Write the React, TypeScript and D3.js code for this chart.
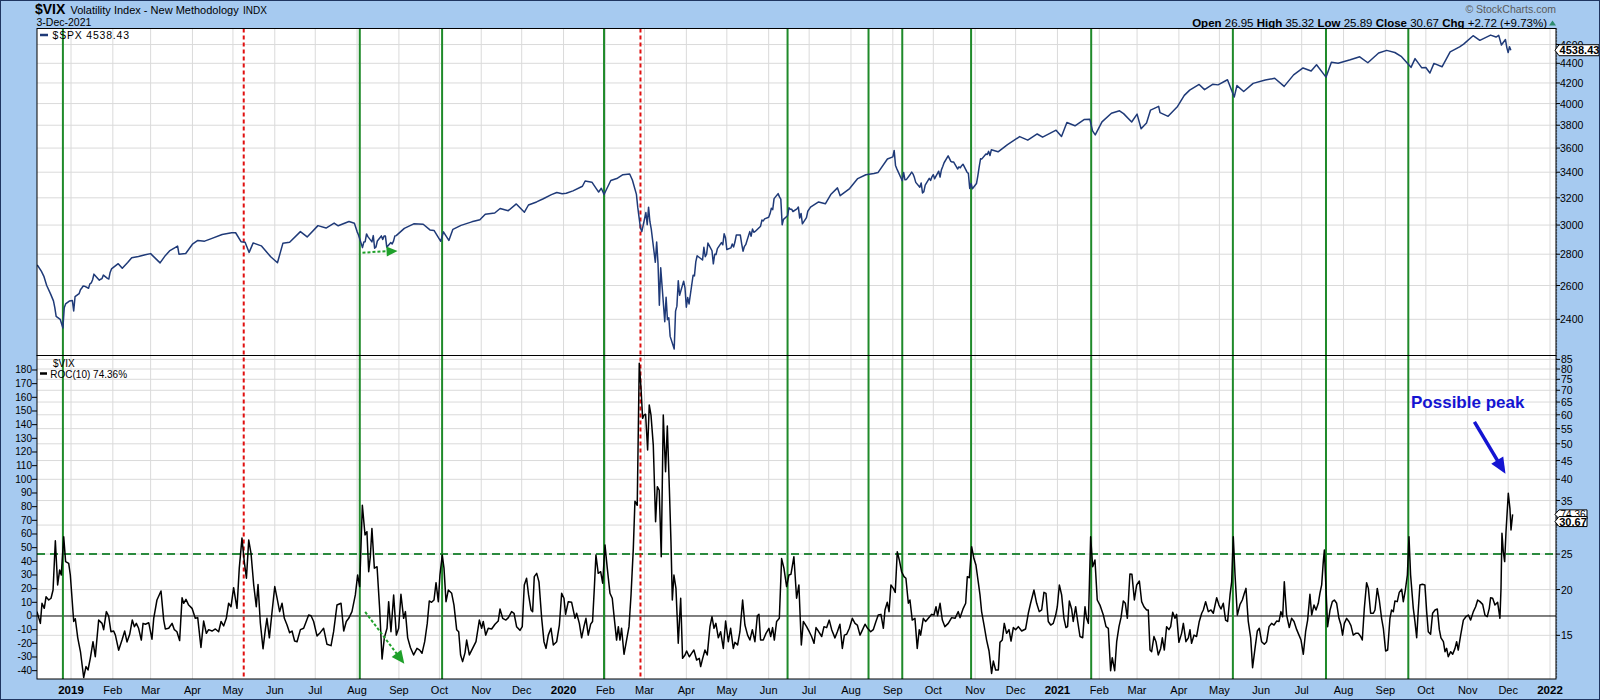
import React from "react";
import * as d3 from "d3";

// ---------------- DATA ----------------
const spxSeries: [string, number][] = [
  ["2018-12-07", 2730], ["2018-12-10", 2690], ["2018-12-12", 2655], ["2018-12-14", 2600], ["2018-12-17", 2546],
  ["2018-12-19", 2507], ["2018-12-20", 2467], ["2018-12-21", 2417], ["2018-12-24", 2400], ["2018-12-26", 2351],
  ["2018-12-27", 2467], ["2018-12-28", 2489], ["2018-12-31", 2507], ["2019-01-02", 2510], ["2019-01-03", 2448],
  ["2019-01-04", 2532], ["2019-01-07", 2550], ["2019-01-08", 2574], ["2019-01-09", 2585], ["2019-01-10", 2597],
  ["2019-01-11", 2596], ["2019-01-14", 2583], ["2019-01-15", 2610], ["2019-01-16", 2616], ["2019-01-17", 2636],
  ["2019-01-18", 2671], ["2019-01-22", 2633], ["2019-01-23", 2639], ["2019-01-24", 2643], ["2019-01-25", 2665],
  ["2019-01-28", 2644], ["2019-01-29", 2640], ["2019-01-30", 2682], ["2019-01-31", 2704], ["2019-02-05", 2738],
  ["2019-02-08", 2708], ["2019-02-12", 2745], ["2019-02-15", 2776], ["2019-02-20", 2785], ["2019-02-25", 2796],
  ["2019-03-01", 2804], ["2019-03-08", 2743], ["2019-03-12", 2792], ["2019-03-15", 2822], ["2019-03-21", 2854],
  ["2019-03-22", 2800], ["2019-03-27", 2805], ["2019-04-01", 2867], ["2019-04-05", 2893], ["2019-04-10", 2888],
  ["2019-04-15", 2905], ["2019-04-23", 2934], ["2019-04-30", 2946], ["2019-05-03", 2946], ["2019-05-07", 2884],
  ["2019-05-10", 2881], ["2019-05-13", 2812], ["2019-05-16", 2876], ["2019-05-22", 2856], ["2019-05-29", 2783],
  ["2019-06-03", 2744], ["2019-06-07", 2873], ["2019-06-12", 2880], ["2019-06-20", 2954], ["2019-06-25", 2917],
  ["2019-07-03", 2996], ["2019-07-09", 2979], ["2019-07-15", 3014], ["2019-07-18", 2995], ["2019-07-26", 3026],
  ["2019-07-30", 3013], ["2019-08-01", 2954], ["2019-08-02", 2932], ["2019-08-05", 2844], ["2019-08-06", 2882],
  ["2019-08-07", 2884], ["2019-08-08", 2938], ["2019-08-09", 2919], ["2019-08-12", 2883], ["2019-08-13", 2926],
  ["2019-08-14", 2840], ["2019-08-15", 2848], ["2019-08-16", 2889], ["2019-08-19", 2924], ["2019-08-20", 2900],
  ["2019-08-21", 2924], ["2019-08-22", 2923], ["2019-08-23", 2847], ["2019-08-26", 2878], ["2019-08-27", 2869],
  ["2019-08-28", 2888], ["2019-08-29", 2924], ["2019-08-30", 2926], ["2019-09-05", 2977], ["2019-09-12", 3009],
  ["2019-09-19", 3006], ["2019-09-24", 2966], ["2019-09-27", 2962], ["2019-10-02", 2887], ["2019-10-04", 2952],
  ["2019-10-08", 2893], ["2019-10-11", 2970], ["2019-10-17", 2998], ["2019-10-25", 3023], ["2019-10-31", 3038],
  ["2019-11-04", 3078], ["2019-11-11", 3087], ["2019-11-15", 3120], ["2019-11-21", 3104], ["2019-11-27", 3154],
  ["2019-12-03", 3093], ["2019-12-06", 3146], ["2019-12-12", 3169], ["2019-12-17", 3193], ["2019-12-23", 3224],
  ["2019-12-27", 3240], ["2019-12-31", 3231], ["2020-01-03", 3235], ["2020-01-08", 3253], ["2020-01-15", 3289],
  ["2020-01-17", 3330], ["2020-01-22", 3321], ["2020-01-27", 3244], ["2020-01-29", 3273], ["2020-01-31", 3225],
  ["2020-02-05", 3334], ["2020-02-10", 3352], ["2020-02-14", 3380], ["2020-02-19", 3386], ["2020-02-21", 3338],
  ["2020-02-24", 3226], ["2020-02-25", 3128], ["2020-02-27", 2979], ["2020-02-28", 2954], ["2020-03-02", 3090],
  ["2020-03-03", 3003], ["2020-03-04", 3130], ["2020-03-05", 3024], ["2020-03-06", 2972], ["2020-03-09", 2747],
  ["2020-03-10", 2882], ["2020-03-11", 2741], ["2020-03-12", 2481], ["2020-03-13", 2711], ["2020-03-16", 2386],
  ["2020-03-17", 2529], ["2020-03-18", 2398], ["2020-03-19", 2409], ["2020-03-20", 2305], ["2020-03-23", 2237],
  ["2020-03-24", 2447], ["2020-03-25", 2476], ["2020-03-26", 2630], ["2020-03-27", 2541], ["2020-03-30", 2627],
  ["2020-03-31", 2585], ["2020-04-01", 2470], ["2020-04-02", 2527], ["2020-04-03", 2489], ["2020-04-06", 2664],
  ["2020-04-07", 2660], ["2020-04-08", 2750], ["2020-04-09", 2790], ["2020-04-13", 2762], ["2020-04-14", 2846],
  ["2020-04-15", 2784], ["2020-04-16", 2800], ["2020-04-17", 2875], ["2020-04-20", 2823], ["2020-04-21", 2737],
  ["2020-04-22", 2799], ["2020-04-23", 2798], ["2020-04-24", 2837], ["2020-04-27", 2878], ["2020-04-28", 2863],
  ["2020-04-29", 2939], ["2020-04-30", 2912], ["2020-05-01", 2831], ["2020-05-04", 2842], ["2020-05-05", 2868],
  ["2020-05-06", 2848], ["2020-05-07", 2882], ["2020-05-08", 2930], ["2020-05-11", 2930], ["2020-05-12", 2870],
  ["2020-05-13", 2820], ["2020-05-14", 2852], ["2020-05-15", 2864], ["2020-05-18", 2954], ["2020-05-19", 2922],
  ["2020-05-20", 2972], ["2020-05-21", 2949], ["2020-05-22", 2955], ["2020-05-26", 2992], ["2020-05-27", 3036],
  ["2020-05-28", 3030], ["2020-05-29", 3044], ["2020-06-01", 3056], ["2020-06-02", 3081], ["2020-06-03", 3122],
  ["2020-06-04", 3112], ["2020-06-05", 3194], ["2020-06-08", 3232], ["2020-06-09", 3207], ["2020-06-10", 3190],
  ["2020-06-11", 3002], ["2020-06-12", 3041], ["2020-06-15", 3067], ["2020-06-16", 3125], ["2020-06-17", 3114],
  ["2020-06-18", 3115], ["2020-06-19", 3098], ["2020-06-22", 3117], ["2020-06-23", 3131], ["2020-06-24", 3050],
  ["2020-06-25", 3084], ["2020-06-26", 3009], ["2020-06-29", 3053], ["2020-06-30", 3100], ["2020-07-02", 3130],
  ["2020-07-08", 3169], ["2020-07-13", 3155], ["2020-07-17", 3225], ["2020-07-22", 3276], ["2020-07-24", 3216],
  ["2020-07-31", 3271], ["2020-08-06", 3349], ["2020-08-12", 3380], ["2020-08-18", 3390], ["2020-08-21", 3397],
  ["2020-08-28", 3508], ["2020-09-01", 3526], ["2020-09-02", 3580], ["2020-09-03", 3455], ["2020-09-04", 3427],
  ["2020-09-08", 3332], ["2020-09-09", 3398], ["2020-09-10", 3339], ["2020-09-11", 3341], ["2020-09-14", 3384],
  ["2020-09-15", 3401], ["2020-09-16", 3385], ["2020-09-17", 3357], ["2020-09-18", 3319], ["2020-09-21", 3281],
  ["2020-09-22", 3315], ["2020-09-23", 3237], ["2020-09-24", 3247], ["2020-09-25", 3298], ["2020-09-28", 3351],
  ["2020-09-29", 3335], ["2020-09-30", 3363], ["2020-10-01", 3380], ["2020-10-02", 3348], ["2020-10-05", 3408],
  ["2020-10-06", 3361], ["2020-10-07", 3419], ["2020-10-08", 3446], ["2020-10-09", 3477], ["2020-10-12", 3534],
  ["2020-10-13", 3511], ["2020-10-14", 3489], ["2020-10-15", 3483], ["2020-10-16", 3484], ["2020-10-19", 3426],
  ["2020-10-20", 3443], ["2020-10-21", 3436], ["2020-10-22", 3453], ["2020-10-23", 3465], ["2020-10-26", 3400],
  ["2020-10-27", 3391], ["2020-10-28", 3271], ["2020-10-29", 3310], ["2020-10-30", 3270], ["2020-11-02", 3310],
  ["2020-11-03", 3370], ["2020-11-04", 3443], ["2020-11-05", 3510], ["2020-11-06", 3509], ["2020-11-09", 3550],
  ["2020-11-10", 3545], ["2020-11-11", 3572], ["2020-11-12", 3537], ["2020-11-13", 3585], ["2020-11-18", 3568],
  ["2020-11-25", 3629], ["2020-12-04", 3699], ["2020-12-10", 3668], ["2020-12-17", 3722], ["2020-12-21", 3694],
  ["2020-12-31", 3756], ["2021-01-04", 3700], ["2021-01-08", 3824], ["2021-01-14", 3795], ["2021-01-21", 3853],
  ["2021-01-25", 3855], ["2021-01-27", 3750], ["2021-01-29", 3714], ["2021-02-03", 3830], ["2021-02-10", 3910],
  ["2021-02-16", 3932], ["2021-02-19", 3906], ["2021-02-25", 3829], ["2021-03-01", 3901], ["2021-03-04", 3768],
  ["2021-03-08", 3821], ["2021-03-11", 3939], ["2021-03-17", 3974], ["2021-03-18", 3915], ["2021-03-24", 3881],
  ["2021-03-31", 3973], ["2021-04-05", 4078], ["2021-04-09", 4129], ["2021-04-16", 4185], ["2021-04-20", 4134],
  ["2021-04-26", 4187], ["2021-04-30", 4181], ["2021-05-07", 4232], ["2021-05-12", 4063], ["2021-05-14", 4174],
  ["2021-05-19", 4116], ["2021-05-26", 4196], ["2021-06-04", 4229], ["2021-06-11", 4247], ["2021-06-18", 4166],
  ["2021-06-25", 4281], ["2021-07-02", 4352], ["2021-07-08", 4320], ["2021-07-12", 4385], ["2021-07-19", 4258],
  ["2021-07-23", 4412], ["2021-07-28", 4401], ["2021-08-06", 4437], ["2021-08-13", 4468], ["2021-08-19", 4406],
  ["2021-08-27", 4509], ["2021-09-02", 4537], ["2021-09-08", 4514], ["2021-09-13", 4469], ["2021-09-20", 4358],
  ["2021-09-23", 4449], ["2021-09-28", 4353], ["2021-10-01", 4357], ["2021-10-04", 4300], ["2021-10-07", 4399],
  ["2021-10-13", 4364], ["2021-10-19", 4520], ["2021-10-26", 4575], ["2021-10-29", 4605], ["2021-11-05", 4697],
  ["2021-11-10", 4646], ["2021-11-18", 4704], ["2021-11-22", 4682], ["2021-11-24", 4701], ["2021-11-26", 4595],
  ["2021-11-29", 4655], ["2021-11-30", 4567], ["2021-12-01", 4513], ["2021-12-02", 4577], ["2021-12-03", 4538.43],
];

// [days after 2019-01-01, ROC(10) of $VIX in %]
const rocSeries: [number, number][] = [
  [-25.2, 3.2], [-22.7, -5.4], [-21.5, 9.3], [-19.8, 5.6], [-18.5, 14], [-16.5, 11.7], [-14.8, 13], [-13.3, 19],
  [-11.6, 55], [-9.9, 22.7], [-8.4, 33.7], [-7.2, 30], [-5.4, 58], [-4.0, 39.8], [-1.7, 38.5], [-0.5, 30],
  [2.0, -4], [3.2, -2], [5.0, -16], [7.0, -26], [9.4, -45], [11.1, -37], [12.6, -39.5], [14.3, -31], [16.3, -18.8],
  [18.0, -29.8], [20.5, -3], [23.0, -5.4], [24.2, -10], [26.2, 3.2], [27.9, 0], [29.6, -11.5], [31.6, -11],
  [32.9, -14], [35.3, -25], [37.8, -17.6], [39.8, -11], [41.5, -19], [43.5, -13.4], [45.4, -3], [47.0, -7.8],
  [48.4, -5.4], [50.1, -9], [52.1, -17.6], [53.4, -5.4], [55.1, -6], [57.6, -4.9], [60.0, -17], [61.3, -1.7],
  [63.7, 11.7], [66.7, 18.3], [68.7, -3], [69.9, -9.5], [72.4, -9], [74.9, -5.4], [76.6, -10], [78.5, -11.5],
  [80.5, -18], [82.3, 13.4], [83.5, 9.3], [85.2, 12.2], [87.2, 8], [89.7, 5.6], [92.1, -1.7], [93.9, -1.2],
  [96.3, -23], [98.3, -3.7], [100.3, -12.7], [102.0, -10], [104.5, -11], [107.0, -9.5], [109.4, -11.5],
  [111.2, -4], [113.1, -7.3], [115.1, -1.7], [116.8, 9.3], [118.6, 6.8], [120.5, 20.7], [123.0, 5.6], [124.7, 35],
  [126.7, 57], [128.4, 39.8], [130.0, 27.6], [131.7, 55.6], [133.4, 45.9], [135.4, 22.7], [137.3, 6.8], [138.6, 23],
  [140.3, -5], [142.3, -24], [144.0, -10], [145.2, -1.7], [147.0, -16], [149.0, 3.2], [151.0, 21.5], [152.7, 13],
  [154.6, 3.2], [156.4, 9.3], [158.1, -1.7], [160.1, -6.6], [162.0, -12.2], [163.8, -11], [165.7, -18.3],
  [167.5, -18.8], [170.0, -10], [172.4, -9], [174.1, -4.6], [176.1, 0.7], [177.9, 0.2], [179.8, -4], [182.3, -14.6],
  [184.8, -12], [187.2, -9], [189.7, -20.7], [192.7, -21.7], [194.6, -11.5], [197.1, 8], [200.1, 9.3], [202.1, -11],
  [204.0, -4], [205.8, -1.7], [208.2, 3.2], [210.7, 15.4], [212.4, 30], [213.9, 21.5], [215.9, 81], [217.9, 59.3],
  [219.3, 61.7], [220.6, 32.4], [221.8, 43.4], [223.0, 64], [224.8, 35], [226.8, 36], [228.7, 5.6], [230.5, -31.5],
  [232.2, -15.9], [234.2, -9], [235.4, 10.5], [237.1, -11.5], [239.1, 15.4], [241.1, -14], [242.8, -9], [244.5, 15.9],
  [246.5, -1.7], [247.8, 3.2], [249.5, -16], [251.5, -23], [253.9, -28.5], [256.4, -23.7], [258.4, -25],
  [260.1, -27.3], [262.1, -18.8],
  [264.0, -5.4], [265.5, 11], [267.2, 10], [269.0, 11.7], [270.5, 24.4], [272.2, 10.5], [273.4, 30], [275.1, 44.6],
  [276.4, 35], [277.9, 10.5], [279.6, 19], [282.1, 16.6], [283.8, 8], [285.8, -10], [287.3, -11.5], [288.7, -28.5],
  [290.2, -33.4], [292.0, -26.8], [293.2, -17.6], [295.2, -28.5], [297.6, -23.7], [300.1, -18.8], [302.6, -3],
  [304.3, -9], [305.5, -4], [307.3, -14], [309.2, -9], [311.7, -9.5], [314.2, -6], [316.6, -3.7], [317.9, 5.1],
  [319.9, -1.7], [322.3, -3], [324.1, -1.2], [326.5, 3.2], [328.3, 2], [330.2, -7.8], [332.7, -10.5], [334.4, -7.8],
  [335.9, 22.7], [337.6, 27.6], [339.1, 15.4], [340.9, 4.4], [342.1, 3.2], [343.3, 28.8], [345.1, 31.2], [346.8, 25],
  [348.8, -1.7], [350.5, -18.8], [352.0, -23.7], [353.7, -14], [355.7, -9], [357.4, -21.2], [359.9, -18.8],
  [361.9, -6.6], [363.6, 16.6], [365.3, 13], [366.5, 1.2], [368.5, 10.5], [371.0, 10], [373.5, -1.7], [374.7, 2],
  [376.7, -5.4], [378.4, -16], [380.1, -7.8], [381.6, -1.7], [383.3, -14], [385.1, -6], [386.5, -4], [387.8, 20.2],
  [389.0, 44.6], [390.7, 31.2], [392.5, 32.4], [394.0, 24], [395.7, 52], [397.4, 35], [399.4, 16.6], [401.1, 13],
  [402.6, -1.7], [404.3, -17.6], [405.6, -7.8], [406.8, -17.6], [408.0, -9], [409.8, -28], [411.7, -17.6],
  [413.5, -7.8], [415.0, 15.4], [416.7, 49.5], [417.9, 84], [419.6, 81], [421.1, 185], [422.4, 166.6],
  [423.6, 144.6], [424.6, 147], [425.8, 147.6], [427.3, 121.5], [428.5, 154.4], [429.8, 147], [431.5, 125],
  [433.2, 69], [434.5, 94.6], [435.9, 92], [437.4, 43.4], [438.9, 147], [440.6, 105.6], [441.9, 139], [443.4, 93.4],
  [444.6, 54.4], [445.6, 11.7], [446.8, 30], [448.3, 20.2], [450.0, -20], [451.8, 13], [453.2, -31], [455.0, -28.5],
  [456.2, -25.6], [458.2, -29.8], [459.9, -27.3], [461.6, -24.9], [463.6, -32.2], [465.6, -31], [466.6, -37],
  [468.1, -31], [469.8, -24.9], [471.5, -28.5], [473.5, -7.8], [475.0, -0.5], [476.5, -9], [477.9, -5.4],
  [479.7, -16], [481.4, -11.5], [483.4, -23.7], [485.1, -3.7], [487.1, -18.8], [488.8, -9], [490.8, -23.7],
  [492.0, -19.3], [494.0, -21.2], [495.7, -11.5], [497.7, 11.7], [499.4, -6.6], [501.4, -14], [503.1, -17.6],
  [504.9, -10], [506.8, -18.8], [508.6, 0.2], [509.8, 1.2], [511.0, -17.6], [513.0, -17.6], [515.0, -12.7],
  [517.2, -9], [518.5, -15], [519.9, -8.5], [521.2, -17.6], [522.9, -4], [524.9, -1.7], [526.6, 42], [528.3, 35],
  [530.3, 21.5], [532.0, 30], [533.5, 30.5], [535.7, 43.4], [537.7, 13], [539.4, 22.7], [541.2, -21.2], [542.7, -4],
  [545.1, -7.8], [547.1, -11.5], [548.8, -15], [550.6, -20], [552.1, -8.5], [553.8, -11], [556.3, -15], [558.0, -7.8],
  [560.0, -8.5], [561.9, -3], [563.7, -10], [566.1, -16], [567.9, -11.5], [569.8, -6], [571.6, -23.7], [573.1, -14],
  [574.8, -13.4], [576.8, -9], [579.0, -1.7], [581.0, -5.4], [582.7, -6.6], [584.7, -14], [586.6, -10], [588.4, -6],
  [590.3, -9], [592.6, -11.5], [594.5, -10], [596.5, -4], [598.2, 0.7], [600.2, 1.2], [602.0, -9], [603.2, 4.4],
  [604.9, 10], [606.2, 3.2], [607.6, 22.7], [609.4, 20.2], [610.8, 17.3], [612.3, 47], [613.8, 41], [615.5, 32.4],
  [617.3, 28.8], [618.7, 27.6], [620.5, 9.3], [621.7, 11.7], [623.4, -3], [625.4, -1.7], [627.1, -23.7], [628.6, -10],
  [629.6, -14], [631.6, -1.7], [633.3, -4], [635.3, -1.7], [637.8, 1.2], [639.5, 0.7], [641.0, 6.8], [642.2, 0.2],
  [644.0, 9.3], [645.7, -3], [647.6, -7.8], [650.1, -5.4], [652.6, -1.2], [655.1, -1.7], [657.5, 3.2], [658.8, -1.2],
  [661.2, 5.6], [663.0, 9.3], [664.2, 28.8], [665.7, 28], [667.4, 50.7], [669.1, 42], [670.6, 37.3], [672.3, 25],
  [673.6, 15.4], [674.8, 3.2], [676.6, -6.6], [678.5, -17.6], [680.3, -25.6], [682.2, -42], [683.5, -33],
  [685.2, -39.5], [687.2, -39.5], [688.4, -19.3], [690.1, -17.6], [691.6, -5.4], [693.3, -12.7], [695.1, -10],
  [696.6, -18.3], [698.3, -8.5], [700.0, -10], [702.0, -7.8], [704.5, -11], [707.4, -9.5], [709.4, 2], [711.1, 9.3],
  [713.6, 19], [715.6, 9.3], [717.5, 3.2], [719.3, 4.4], [721.0, 17.3], [722.5, 16.6], [724.2, -4], [726.0, -6.6],
  [727.9, -5.4], [729.7, 0.7], [730.9, 6.8], [732.4, 22.7], [734.1, 15.4], [735.8, -1.7], [737.3, -8.5],
  [738.5, -7.8], [739.8, 11], [741.5, 5.1], [742.7, -4], [744.5, 6.8], [746.0, -4], [747.7, -15], [749.7, -15.9],
  [751.4, 6.8], [752.6, -1.7], [753.9, -5.4], [755.6, 58], [757.1, 36], [758.8, 41], [760.5, 11.7], [762.5, 8],
  [765.0, 0.7], [767.0, -7.8], [768.7, -9], [770.4, -40], [771.6, -30.5], [773.4, -40], [774.9, -18.8],
  [776.6, -7.8], [778.1, -1.2], [779.8, 11], [781.3, 9.3], [782.8, -1.7], [784.7, 30.7], [786.2, 30.5],
  [788.0, 11.7], [789.7, 22.7], [791.7, 25.6], [793.4, 10.5], [795.1, 6.8], [797.1, 4.4], [798.3, 4.4],
  [799.6, -24.9], [800.8, -26.1], [802.5, -15], [804.0, -18.8], [805.7, -28.5], [807.5, -23.7], [808.7, -16],
  [810.2, -24.9], [811.9, -7.8], [813.6, -10], [814.9, -7.8], [816.4, 2.7], [818.1, -1.7], [819.3, 1.2],
  [821.0, -19.3], [823.0, -12.7], [824.3, -5.4], [826.2, -18.8], [828.0, -16], [829.2, -10],
  [830.4, -20], [832.2, -14], [834.1, -15], [836.1, -4], [837.9, 2], [839.1, 4.4], [840.8, 10.5], [842.8, 3.2],
  [844.8, 4.4], [846.5, 2], [849.0, 13.4], [850.7, 8], [852.2, 5.1], [853.9, 9.3], [855.6, -3], [857.1, -4],
  [858.9, 15.4], [860.1, 25], [861.3, 58], [862.6, 30], [864.3, 0.7], [866.3, 8.5], [868.0, 11.7], [869.5, 16.6],
  [870.7, 20.2], [872.4, -4], [874.2, -16], [875.6, -37.8], [877.4, -23.7], [879.1, -11], [880.6, -9],
  [882.3, -18.8], [884.3, -20.7], [886.0, -18.8], [887.8, -7.8], [889.7, -5.4], [891.5, -6.6], [893.4, -3.7],
  [895.2, -4], [896.6, 3.2], [897.9, -0.5], [899.1, 25], [900.8, 0.7], [902.8, -8.5], [904.5, -1.7], [906.3, -4],
  [908.3, -10], [910.0, -14], [911.5, -17.6], [913.2, -28], [914.9, -11.5], [916.4, -3], [918.1, 15.9],
  [919.4, 0.7], [921.1, 8], [922.6, 4.4], [924.3, 9.3], [925.5, 16.6], [926.8, 22.7], [928.0, 39.8], [928.8, 48.3],
  [930.0, 20.2], [931.2, -7.8], [933.0, 4.4], [934.7, 10.5], [936.2, 11.7], [937.9, 9.3], [939.6, -1.7],
  [941.1, -6.6], [942.3, -14], [943.6, -5.4], [945.3, -1.7], [947.0, -4], [948.5, -7], [950.2, -14], [952.0, -12.7],
  [954.0, -12.7], [955.7, -15], [956.9, -17.6], [958.4, 5.6], [960.1, 24.4], [961.4, 20.2], [963.1, 2], [965.1, 2],
  [966.3, 4.4], [968.0, 20.2], [969.5, 11.7], [971.2, -1.7], [972.5, -9], [974.2, -25.6], [975.7, -24.9],
  [977.4, -1.7], [978.6, 4.4], [979.9, 3.2], [981.1, 11], [982.8, 10.5], [984.3, 17.3], [986.1, 19.5], [987.3, 10.5],
  [988.8, 19], [990.3, 30], [991.5, 58], [992.7, 30], [994.7, 5.6], [995.9, -4], [997.2, -15.9], [998.4, 4.4],
  [999.6, 22.7], [1001.4, 23.2], [1003.3, 22.7], [1004.6, 3.2], [1005.8, -11.5], [1007.5, -13.4], [1009.0, 2],
  [1010.8, 4.4], [1012.5, 5.1], [1014.0, -10], [1015.2, -16], [1017.0, -18.8], [1018.2, -26.1], [1019.4, -23.7],
  [1020.6, -29.8], [1022.4, -26.1], [1023.9, -28], [1025.6, -23.7], [1026.8, -18.8], [1028.0, -24.9],
  [1029.8, -14], [1031.8, -3], [1033.7, -0.5], [1035.5, 0.7], [1037.2, -3], [1039.2, 3.2], [1040.9, 6.8],
  [1042.4, 11.7], [1044.1, 10.5], [1046.1, 8.5], [1047.8, 0.7], [1049.5, -0.5], [1051.0, 5.6], [1052.0, 13.4],
  [1053.5, 13], [1055.2, 8], [1057.2, 10], [1058.9, -1.7], [1059.7, 20.2], [1060.4, 60.5], [1061.4, 47],
  [1062.4, 39.8], [1063.4, 61.7], [1065.1, 89.8], [1066.3, 78.8], [1067.1, 63], [1068.3, 74.36],
];

const greenSignalDates = [
  "2018-12-26", "2019-08-03", "2019-10-03", "2020-01-31", "2020-06-15", "2020-08-14",
  "2020-09-08", "2020-10-29", "2021-01-26", "2021-05-11", "2021-07-19", "2021-09-18",
];
const redSignalDates = ["2019-05-09", "2020-02-27"];

const spxTicks = [2400, 2600, 2800, 3000, 3200, 3400, 3600, 3800, 4000, 4200, 4400, 4600];
const rocTicks = [-40, -30, -20, -10, 0, 10, 20, 30, 40, 50, 60, 70, 80, 90, 100, 110, 120, 130, 140, 150, 160, 170, 180];
const vixGrid = [15, 20, 25, 30, 35, 40, 45, 50, 55, 60, 65, 70, 75, 80, 85];
const vixLabels = [15, 20, 25, 35, 40, 45, 50, 55, 60, 65, 70, 75, 80, 85];
const vixThreshold = 25;

const lastSpx = 4538.43;
const lastRoc = 74.36;
const lastVix = 30.67;
const quoteLabels = ["Open", "High", "Low", "Close", "Chg"];
const quoteValues = ["26.95", "35.32", "25.89", "30.67", "+2.72 (+9.73%)"];

// annotation arrows (date, value)
const spxArrow = { from: ["2019-08-05", 2810] as [string, number], to: ["2019-08-31", 2822] as [string, number] };
const rocArrow = { from: ["2019-08-07", 3] as [string, number], to: ["2019-09-05", -35] as [string, number] };
const peakArrow = { from: ["2021-11-06", 142] as [string, number], to: ["2021-11-29", 104] as [string, number] };
const peakText = { date: "2021-09-20", value: 152, text: "Possible peak" };

// ---------------- LAYOUT ----------------
const W = 1600, H = 700;
const PL = 37, PR = 1556;
const T1 = 28.5, B1 = 355.5, B2 = 679;
const BG = "#a6caf0";
const FONT = "'Liberation Sans', Arial, sans-serif";
const ORIGIN = Date.UTC(2019, 0, 1);
const DAY = 86400000;
const parse = (s: string) => new Date(s + "T00:00:00Z");

function arrowHead(x1: number, y1: number, x2: number, y2: number, len: number, half: number) {
  const dx = x2 - x1, dy = y2 - y1;
  const L = Math.hypot(dx, dy);
  const ux = dx / L, uy = dy / L;
  const bx = x2 - ux * len, by = y2 - uy * len;
  const px = -uy, py = ux;
  return `M${x2},${y2}L${bx + px * half},${by + py * half}L${bx - px * half},${by - py * half}Z`;
}

function valueBox(y: number, h: number, w: number) {
  return `M${PR - 1},${y}L${PR + 3},${y - h / 2}L${PR + w},${y - h / 2}L${PR + w},${y + h / 2}L${PR + 3},${y + h / 2}Z`;
}

export default function App() {
  const x = d3.scaleUtc().domain([parse("2019-01-01"), parse("2022-01-01")]).range([71, 1550]);
  const ySpx = d3.scaleLog().domain([2203, 4778]).range([B1, T1]);
  const yRoc = d3.scaleLinear().domain([-46.1, 190.6]).range([B2, B1]);
  const yVix = d3.scaleLog().domain([11.4, 87.1]).range([B2, B1]);
  const rocX = (d: number) => x(new Date(ORIGIN + d * DAY));

  const spxPath = d3.line<[string, number]>().x((d) => x(parse(d[0]))).y((d) => ySpx(d[1]))(spxSeries) || "";
  const rocPath = d3.line<[number, number]>().x((d) => rocX(d[0])).y((d) => yRoc(d[1]))(rocSeries) || "";

  const months = d3.utcMonth.range(parse("2019-01-01"), parse("2022-01-02"));
  const fmtMonth = d3.utcFormat("%b");
  const fmtYear = d3.utcFormat("%Y");

  const aPt = (p: [string, number], y: (v: number) => number) => [x(parse(p[0])), y(p[1])] as [number, number];
  const sa1 = aPt(spxArrow.from, ySpx), sa2 = aPt(spxArrow.to, ySpx);
  const ra1 = aPt(rocArrow.from, yRoc), ra2 = aPt(rocArrow.to, yRoc);
  const pa1 = aPt(peakArrow.from, yRoc), pa2 = aPt(peakArrow.to, yRoc);

  const ySpxLast = ySpx(lastSpx);
  const yRocLast = yRoc(lastRoc);
  const yVixLast = yVix(lastVix);

  return (
    <svg width={W} height={H} style={{ position: "fixed", left: 0, top: 0, display: "block" }} fontFamily={FONT}>
      <defs>
        <clipPath id="clipTop"><rect x={PL} y={T1} width={PR - PL} height={B1 - T1} /></clipPath>
        <clipPath id="clipBot"><rect x={PL} y={B1} width={PR - PL} height={B2 - B1} /></clipPath>
      </defs>
      <rect x={0} y={0} width={W} height={H} fill={BG} />
      <rect x={PL} y={T1} width={PR - PL} height={B2 - T1} fill="#fff" />

      {/* grid */}
      <g stroke="#dadada" strokeWidth={1}>
        {months.map((m, i) => (
          <line key={"vg" + i} x1={x(m)} x2={x(m)} y1={T1} y2={B2} />
        ))}
        {spxTicks.map((t) => (
          <line key={"hs" + t} x1={PL} x2={PR} y1={ySpx(t)} y2={ySpx(t)} />
        ))}
        {vixGrid.map((t) => (
          <line key={"hv" + t} x1={PL} x2={PR} y1={yVix(t)} y2={yVix(t)} />
        ))}
      </g>

      {/* zero line and VIX threshold */}
      <line x1={PL} x2={PR} y1={yRoc(0)} y2={yRoc(0)} stroke="#000" strokeWidth={1} />
      <line x1={PL} x2={PR} y1={yVix(vixThreshold)} y2={yVix(vixThreshold)} stroke="#2b8a3e" strokeWidth={2} strokeDasharray="8,5" />

      {/* signal lines */}
      {greenSignalDates.map((d) => (
        <line key={"g" + d} x1={x(parse(d))} x2={x(parse(d))} y1={T1} y2={B2} stroke="#1f8a2a" strokeWidth={2} />
      ))}
      {redSignalDates.map((d) => (
        <line key={"r" + d} x1={x(parse(d))} x2={x(parse(d))} y1={T1} y2={B2} stroke="#e01010" strokeWidth={2} strokeDasharray="4,3" />
      ))}

      {/* series */}
      <g clipPath="url(#clipTop)">
        <path d={spxPath} fill="none" stroke="#1f3a78" strokeWidth={1.5} strokeLinejoin="round" />
      </g>
      <g clipPath="url(#clipBot)">
        <path d={rocPath} fill="none" stroke="#000" strokeWidth={1.5} strokeLinejoin="round" />
      </g>

      {/* annotations */}
      <line x1={sa1[0]} y1={sa1[1]} x2={sa2[0] - 8} y2={sa2[1]} stroke="#1fa02a" strokeWidth={2} strokeDasharray="3,2" />
      <path d={arrowHead(sa1[0], sa1[1], sa2[0], sa2[1], 11, 5)} fill="#1fa02a" />
      <line x1={ra1[0]} y1={ra1[1]} x2={ra2[0] - 6} y2={ra2[1] - 8} stroke="#1fa02a" strokeWidth={2} strokeDasharray="3,2" />
      <path d={arrowHead(ra1[0], ra1[1], ra2[0], ra2[1], 13, 6)} fill="#1fa02a" />
      <line x1={pa1[0]} y1={pa1[1]} x2={pa2[0] - 6} y2={pa2[1] - 10} stroke="#1414d2" strokeWidth={3.5} />
      <path d={arrowHead(pa1[0], pa1[1], pa2[0], pa2[1], 16, 7)} fill="#1414d2" />
      <text x={x(parse(peakText.date))} y={yRoc(peakText.value)} fontSize={17} fontWeight="bold" fill="#1414d2">
        {peakText.text}
      </text>

      {/* panel borders */}
      <rect x={PL} y={T1} width={PR - PL} height={B1 - T1} fill="none" stroke="#000" strokeWidth={1} />
      <rect x={PL} y={B1} width={PR - PL} height={B2 - B1} fill="none" stroke="#000" strokeWidth={1} />
      <line x1={PR + 0.5} x2={PR + 0.5} y1={T1} y2={B2} stroke="#222" strokeWidth={1.2} strokeDasharray="1,2" />

      {/* right axes */}
      <g fontSize={10.5} fill="#000">
        {spxTicks.map((t) => (
          <g key={"st" + t}>
            <line x1={PR} x2={PR + 4} y1={ySpx(t)} y2={ySpx(t)} stroke="#000" />
            <text x={PR + 4} y={ySpx(t) + 4}>{t}</text>
          </g>
        ))}
        {vixGrid.map((t) => (
          <line key={"vtk" + t} x1={PR} x2={PR + 4} y1={yVix(t)} y2={yVix(t)} stroke="#000" />
        ))}
        {vixLabels.map((t) => (
          <text key={"vt" + t} x={PR + 5} y={yVix(t) + 4}>{t}</text>
        ))}
      </g>

      {/* left axis, bottom */}
      <g fontSize={10} fill="#000">
        {rocTicks.map((t) => (
          <g key={"rt" + t}>
            <line x1={PL - 5} x2={PL} y1={yRoc(t)} y2={yRoc(t)} stroke="#000" />
            <text x={PL - 5} y={yRoc(t) + 3.5} textAnchor="end">{t}</text>
          </g>
        ))}
      </g>

      {/* x axis labels */}
      <g fontSize={11} fill="#000" textAnchor="middle">
        {months.map((m, i) =>
          m.getUTCMonth() === 0 ? (
            <text key={"xl" + i} x={x(m)} y={694} fontWeight="bold" fontSize={11.5}>{fmtYear(m)}</text>
          ) : (
            <text key={"xl" + i} x={x(m)} y={694}>{fmtMonth(m)}</text>
          )
        )}
      </g>

      {/* last value boxes */}
      <path d={valueBox(ySpxLast, 11, 43)} fill="#fff" stroke="#000" strokeWidth={1} />
      <text x={PR + 23.5} y={ySpxLast + 4} fontSize={11} fontWeight="bold" textAnchor="middle">{lastSpx.toFixed(2)}</text>
      <path d={valueBox(yRocLast, 9, 31)} fill="#fff" stroke="#000" strokeWidth={1} />
      <text x={PR + 17} y={yRocLast + 3.5} fontSize={10} textAnchor="middle">{lastRoc.toFixed(2)}</text>
      <path d={valueBox(yVixLast, 10, 31)} fill="#fff" stroke="#000" strokeWidth={1} />
      <text x={PR + 17} y={yVixLast + 4} fontSize={11} fontWeight="bold" textAnchor="middle">{lastVix.toFixed(2)}</text>

      {/* legends */}
      <line x1={40} x2={48} y1={35} y2={35} stroke="#1f3a78" strokeWidth={2.5} />
      <text x={52.5} y={38.8} fontSize={10.5} letterSpacing={0.8}>$SPX {lastSpx.toFixed(2)}</text>
      <text x={53} y={366.5} fontSize={10}>$VIX</text>
      <line x1={40} x2={47} y1={373.5} y2={373.5} stroke="#000" strokeWidth={2.5} />
      <text x={50.3} y={377.5} fontSize={10}>ROC(10) {lastRoc.toFixed(2)}%</text>

      {/* header */}
      <text x={35} y={14} fontSize={14} fontWeight="bold">$VIX</text>
      <text x={70.5} y={13.5} fontSize={11}>Volatility Index - New Methodology</text>
      <text x={243} y={13.5} fontSize={10}>INDX</text>
      <text x={36.5} y={26} fontSize={10.5}>3-Dec-2021</text>
      <text x={1556} y={13} fontSize={10.5} fill="#5a5a5a" textAnchor="end">© StockCharts.com</text>
      <text x={1547} y={26.5} fontSize={11.5} textAnchor="end">
        {quoteLabels.map((l, i) => (
          <React.Fragment key={l}>
            <tspan fontWeight="bold">{(i > 0 ? "  " : "") + l}</tspan>
            <tspan>{" " + quoteValues[i]}</tspan>
          </React.Fragment>
        ))}
      </text>
      <path d="M1549,25.5L1552.5,20.5L1556,25.5Z" fill="#2e8b6e" />

      <rect x={0.5} y={0.5} width={W - 1} height={H - 1} fill="none" stroke="#1f3560" strokeWidth={1} />
    </svg>
  );
}
